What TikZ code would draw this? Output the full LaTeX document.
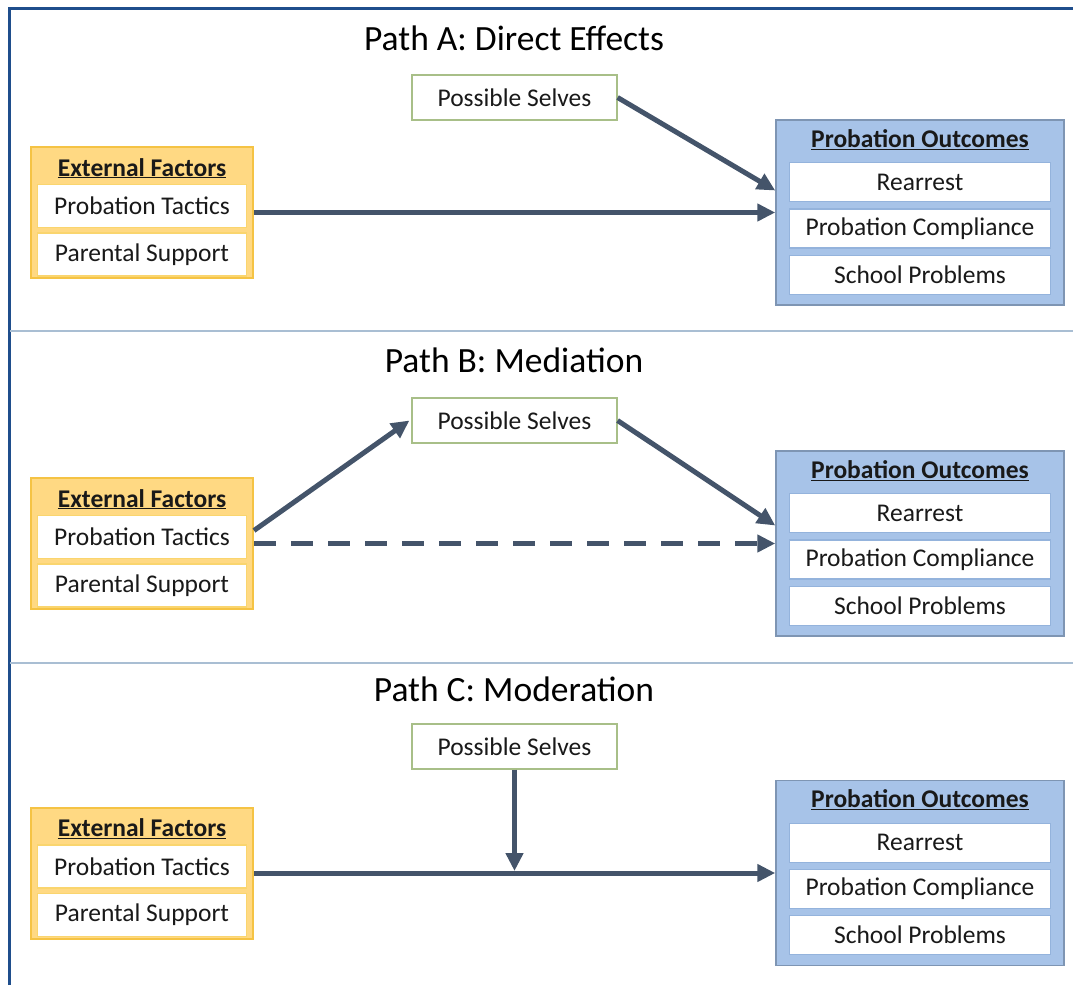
\documentclass[tikz,border=0pt]{standalone}
\usepackage{fontspec}
\setmainfont{Carlito}
\usetikzlibrary{positioning,arrows.meta}

\definecolor{arrowgray}{HTML}{44546A}
\definecolor{framblue}{HTML}{1F4E8C}
\definecolor{seplin}{HTML}{A9BED3}
\definecolor{goldfill}{HTML}{FFD983}
\definecolor{goldline}{HTML}{F5C344}
\definecolor{golditem}{HTML}{FAD56E}
\definecolor{bluefill}{HTML}{A7C3E8}
\definecolor{blueline}{HTML}{7E95B3}
\definecolor{blueitem}{HTML}{94B3DC}
\definecolor{greenline}{HTML}{A8BF88}

\begin{document}
\begin{tikzpicture}[x=1pt, y=-1pt, node distance=4pt,
	title/.style={font=\fontsize{35.5}{40}\selectfont},
	boxfont/.style={font=\fontsize{25.5}{29}\selectfont, text=black!90},
	selves/.style={boxfont, draw=greenline, line width=1.2pt, fill=white,
		minimum width=205pt, minimum height=45pt, inner sep=0pt},
	extbox/.style={draw=goldline, fill=goldfill, line width=2pt,
		minimum width=222pt, minimum height=131pt},
	extitem/.style={boxfont, draw=golditem, fill=white, line width=1.5pt,
		minimum width=209pt, minimum height=43pt, inner sep=0pt},
	outbox/.style={draw=blueline, fill=bluefill, line width=1.5pt,
		minimum width=288pt, minimum height=185pt},
	outitem/.style={boxfont, draw=blueitem, fill=white, line width=1.2pt,
		minimum width=261pt, minimum height=39pt, inner sep=0pt},
	hdr/.style={boxfont, font=\fontsize{25.5}{29}\selectfont\bfseries, anchor=base, inner sep=0pt},
	flow/.style={arrowgray, line width=5pt, -{Triangle[length=18pt, width=17pt]}}]

	\useasboundingbox (0,0) rectangle (1073,985);

	% frame and separators
	\draw[framblue, line width=3pt] (9,985) -- (9,8) -- (1073,8);
	\draw[seplin, line width=1.8pt] (10,331) -- (1073,331);
	\draw[seplin, line width=1.8pt] (10,663) -- (1073,663);

	% Path A
	\node (titA) [title] at (514,38) {Path A: Direct Effects};
	\node (selA) [selves] at (514.5,97.5) {Possible Selves};

	\node (extA) [extbox] at (142,212.5) {};
	\node (hdrExtA) [hdr] at ([yshift=-30pt]extA.north) {\underline{External Factors}};
	\node (supA) [extitem, above=2.5pt of extA.south] {Parental Support};
	\node (tacA) [extitem, above=of supA] {Probation Tactics};

	\node (outA) [outbox] at (920,212.5) {};
	\node (hdrOutA) [hdr] at ([yshift=-28pt]outA.north) {\underline{Probation Outcomes}};
	\node (schA) [outitem, above=11pt of outA.south] {School Problems};
	\node (comA) [outitem, above=6pt of schA] {Probation Compliance};
	\node (rearA) [outitem, above=6pt of comA] {Rearrest};

	\path[flow] (selA.east) edge ([yshift=22pt]outA.west);
	\path[flow] (extA) edge (outA);

	% Path B
	\node (titB) [title] at (514,360) {Path B: Mediation};
	\node (selB) [selves] at (514.5,420.5) {Possible Selves};

	\node (extB) [extbox] at (142,543.5) {};
	\node (hdrExtB) [hdr] at ([yshift=-30pt]extB.north) {\underline{External Factors}};
	\node (supB) [extitem, above=2.5pt of extB.south] {Parental Support};
	\node (tacB) [extitem, above=of supB] {Probation Tactics};

	\node (outB) [outbox] at (920,543.5) {};
	\node (hdrOutB) [hdr] at ([yshift=-28pt]outB.north) {\underline{Probation Outcomes}};
	\node (schB) [outitem, above=11pt of outB.south] {School Problems};
	\node (comB) [outitem, above=6pt of schB] {Probation Compliance};
	\node (rearB) [outitem, above=6pt of comB] {Rearrest};

	\path[flow] ([yshift=13pt]extB.east) edge ([xshift=-2pt]selB.west);
	\path[flow] (selB.east) edge ([yshift=18pt]outB.west);
	\path[flow, dash pattern=on 22pt off 15pt] (extB) edge (outB);

	% Path C
	\node (titC) [title] at (514,689) {Path C: Moderation};
	\node (selC) [selves] at (514.5,746.5) {Possible Selves};

	\node (extC) [extbox] at (142,873) {};
	\node (hdrExtC) [hdr] at ([yshift=-30pt]extC.north) {\underline{External Factors}};
	\node (supC) [extitem, above=2.5pt of extC.south] {Parental Support};
	\node (tacC) [extitem, above=of supC] {Probation Tactics};

	\node (outC) [outbox] at (920,873) {};
	\node (hdrOutC) [hdr] at ([yshift=-28pt]outC.north) {\underline{Probation Outcomes}};
	\node (schC) [outitem, above=11pt of outC.south] {School Problems};
	\node (comC) [outitem, above=6pt of schC] {Probation Compliance};
	\node (rearC) [outitem, above=6pt of comC] {Rearrest};

	\coordinate (midC) at (selC |- extC);
	\path[flow] (extC) edge (outC);
	\path[flow, shorten >=2pt] (selC) edge (midC);

\end{tikzpicture}
\end{document}
